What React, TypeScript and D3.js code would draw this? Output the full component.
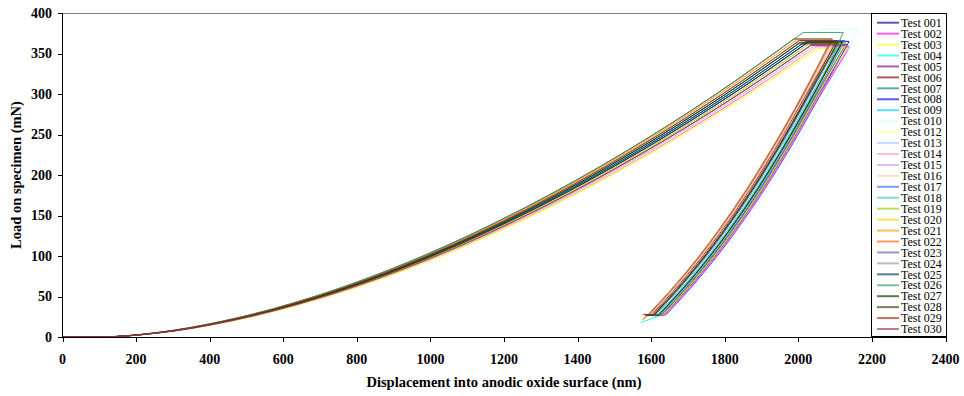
import React from "react";
import * as d3 from "d3";

const W = 964;
const H = 396;

const testNames = [
  "Test 001", "Test 002", "Test 003", "Test 004", "Test 005", "Test 006", "Test 007", "Test 008",
  "Test 009", "Test 010", "Test 012", "Test 013", "Test 014", "Test 015", "Test 016", "Test 017",
  "Test 018", "Test 019", "Test 020", "Test 021", "Test 022", "Test 023", "Test 024", "Test 025",
  "Test 026", "Test 027", "Test 028", "Test 029", "Test 030",
];

const seriesColors = [
  "#000080", "#FF00FF", "#FFFF00", "#00FFFF", "#800080", "#800000", "#008080", "#0000FF",
  "#00CCFF", "#CCFFFF", "#FFFF99", "#99CCFF", "#FF99CC", "#CC99FF", "#FFCC99", "#3366FF",
  "#33CCCC", "#99CC00", "#FFCC00", "#FF9900", "#FF6600", "#666699", "#969696", "#003366",
  "#339966", "#003300", "#333300", "#993300", "#993366",
];

// loading branch: load levels (mN) and displacement (nm) of each test at those levels
const loadingLoads = [0, 0, 5, 20, 50, 100, 160, 230, 300];
const loadingDisp = [
  [0, 100, 256, 451, 700, 1000, 1285, 1565, 1812],
  [0, 103, 262, 462, 718, 1025, 1317, 1604, 1857],
  [0, 103, 264, 465, 721, 1030, 1324, 1612, 1866],
  [0, 101, 259, 456, 707, 1010, 1298, 1581, 1830],
  [0, 102, 260, 458, 711, 1015, 1304, 1588, 1839],
  [0, 100, 255, 449, 697, 995, 1279, 1557, 1803],
  [0, 99, 253, 446, 693, 990, 1272, 1549, 1794],
  [0, 101, 257, 453, 704, 1005, 1291, 1573, 1821],
  [0, 95, 254, 450, 700, 1001, 1286, 1566, 1813],
  [0, 110, 262, 455, 701, 999, 1283, 1562, 1810],
  [0, 108, 264, 463, 717, 1024, 1316, 1602, 1854],
  [0, 101, 259, 456, 707, 1010, 1298, 1581, 1830],
  [0, 99, 253, 446, 693, 990, 1272, 1549, 1794],
  [0, 102, 261, 460, 714, 1020, 1311, 1596, 1848],
  [0, 99, 252, 444, 690, 985, 1266, 1542, 1785],
  [0, 101, 257, 453, 704, 1005, 1291, 1573, 1821],
  [0, 100, 256, 451, 700, 1000, 1285, 1565, 1812],
  [0, 102, 260, 458, 711, 1015, 1304, 1588, 1839],
  [0, 101, 259, 456, 707, 1010, 1298, 1581, 1830],
  [0, 99, 252, 444, 690, 985, 1266, 1542, 1785],
  [0, 98, 251, 442, 686, 980, 1259, 1534, 1776],
  [0, 96, 250, 441, 686, 981, 1260, 1535, 1777],
  [0, 100, 255, 449, 697, 995, 1279, 1557, 1803],
  [0, 100, 256, 451, 700, 1000, 1285, 1565, 1812],
  [0, 90, 246, 438, 684, 979, 1258, 1534, 1777],
  [0, 100, 255, 449, 697, 995, 1279, 1557, 1803],
  [0, 101, 257, 453, 704, 1005, 1291, 1573, 1821],
  [0, 99, 253, 446, 693, 990, 1272, 1549, 1794],
  [0, 102, 260, 458, 711, 1015, 1304, 1588, 1839],
];

// peak load (mN), displacement at peak and at end of hold (nm)
const peakLoad = [
  362, 358, 356, 365, 360, 362, 366, 365, 364, 380, 357, 364, 363, 359, 365, 366,
  363, 362, 364, 367, 368, 368, 364, 365, 376, 363, 364, 366, 361,
];
const peakDisp = [
  2010, 2048, 2052, 2040, 2034, 2000, 2003, 2030, 2016, 2062, 2045, 2036, 1993, 2041, 1990, 2033,
  2013, 2040, 2036, 1996, 1988, 1988, 2006, 2020, 2013, 2003, 2026, 2003, 2037,
];
const holdDisp = [
  2108, 2140, 2135, 2130, 2128, 2100, 2110, 2138, 2118, 2162, 2132, 2125, 2098, 2138, 2096, 2126,
  2115, 2130, 2122, 2094, 2090, 2092, 2110, 2120, 2122, 2106, 2120, 2104, 2134,
];

// unloading branch
const unloadingLoads = [300, 230, 160, 100, 55, 27];
const unloadingDisp = [
  [2030, 1942, 1844, 1748, 1665, 1608],
  [2062, 1974, 1876, 1780, 1697, 1640],
  [2057, 1969, 1871, 1775, 1692, 1635],
  [2052, 1964, 1866, 1770, 1687, 1630],
  [2050, 1962, 1864, 1768, 1685, 1628],
  [2022, 1934, 1836, 1740, 1657, 1600],
  [2032, 1944, 1846, 1750, 1667, 1610],
  [2060, 1972, 1874, 1778, 1695, 1638],
  [2040, 1952, 1854, 1758, 1675, 1618],
  [2078, 1985, 1885, 1790, 1705, 1652],
  [2054, 1966, 1868, 1772, 1689, 1632],
  [2047, 1959, 1861, 1765, 1682, 1625],
  [2020, 1932, 1834, 1738, 1655, 1598],
  [2060, 1972, 1874, 1778, 1695, 1638],
  [2018, 1930, 1832, 1736, 1653, 1596],
  [2048, 1960, 1862, 1766, 1683, 1626],
  [2037, 1949, 1851, 1755, 1672, 1615],
  [2052, 1964, 1866, 1770, 1687, 1630],
  [2044, 1956, 1858, 1762, 1679, 1622],
  [2016, 1928, 1830, 1734, 1651, 1594],
  [2012, 1924, 1826, 1730, 1647, 1590],
  [2014, 1926, 1828, 1732, 1649, 1592],
  [2032, 1944, 1846, 1750, 1667, 1610],
  [2042, 1954, 1856, 1760, 1677, 1620],
  [2044, 1956, 1858, 1762, 1679, 1622],
  [2028, 1940, 1842, 1746, 1663, 1606],
  [2042, 1954, 1856, 1760, 1677, 1620],
  [2026, 1938, 1840, 1744, 1661, 1604],
  [2056, 1968, 1870, 1774, 1691, 1634],
];

// final point after the low-load hold
const endDisp = [
  1585, 1610, 1605, 1572, 1600, 1580, 1588, 1608, 1590, 1620, 1602, 1596, 1580, 1606, 1578, 1598,
  1590, 1600, 1594, 1578, 1576, 1577, 1586, 1592, 1594, 1584, 1592, 1582, 1604,
];
const endLoad = [
  27, 26, 26, 18, 27, 28, 27, 27, 27, 27, 26, 27, 28, 26, 28, 27,
  27, 27, 27, 22, 21, 28, 27, 27, 27, 27, 27, 28, 27,
];

const xTickValues = [0, 200, 400, 600, 800, 1000, 1200, 1400, 1600, 1800, 2000, 2200, 2400];
const yTickValues = [0, 50, 100, 150, 200, 250, 300, 350, 400];

const SERIF = '"Liberation Serif", "Times New Roman", Times, serif';

type Pt = [number, number];

export default function App() {
  const x = d3.scaleLinear().domain([0, 2400]).range([62.5, 945.5]);
  const y = d3.scaleLinear().domain([0, 400]).range([337, 13]);

  const loadLine = d3.line<Pt>().x((d) => x(d[0])).y((d) => y(d[1])).curve(d3.curveMonotoneX);
  const unloadLine = d3.line<Pt>().x((d) => x(d[0])).y((d) => y(d[1])).curve(d3.curveMonotoneY);
  const straight = d3.line<Pt>().x((d) => x(d[0])).y((d) => y(d[1]));

  const series = testNames.map((name, i) => {
    const loading: Pt[] = loadingDisp[i].map((h, k) => [h, loadingLoads[k]] as Pt);
    loading.push([peakDisp[i], peakLoad[i]]);
    const hold: Pt[] = [
      [peakDisp[i], peakLoad[i]],
      [holdDisp[i], peakLoad[i]],
    ];
    const unloading: Pt[] = [[holdDisp[i], peakLoad[i]]];
    unloadingDisp[i].forEach((h, k) => unloading.push([h, unloadingLoads[k]]));
    const last = unloading[unloading.length - 1];
    const tail: Pt[] = [last, [endDisp[i], endLoad[i]]];
    return { name, color: seriesColors[i], loading, hold, unloading, tail };
  });

  const legendX = x(2200);
  const legendRight = 946.5;
  const legendTop = 13.5;
  const legendBottom = 336.5;

  return (
    <svg
      width={W}
      height={H}
      style={{ position: "absolute", left: 0, top: 0, background: "#fff" }}
      fontFamily={SERIF}
    >
      <rect x={0} y={0} width={W} height={H} fill="#fff" />
      {/* top border of plot area */}
      <line x1={x(0)} x2={x(2400)} y1={13.5} y2={13.5} stroke="#808080" strokeWidth={1} />

      {/* data */}
      <g fill="none" strokeWidth={1} strokeOpacity={0.9}>
        {series.map((s) => (
          <g key={s.name} stroke={s.color}>
            <path d={loadLine(s.loading) || ""} />
            <path d={straight(s.hold) || ""} />
            <path d={unloadLine(s.unloading) || ""} />
            <path d={straight(s.tail) || ""} />
          </g>
        ))}
      </g>

      {/* axes */}
      <g shapeRendering="crispEdges" stroke="#000" strokeWidth={1}>
        <line x1={62.5} x2={62.5} y1={13} y2={337.5} />
        <line x1={62} x2={946} y1={337.5} y2={337.5} />
        {yTickValues.map((v) => (
          <line key={"yt" + v} x1={58} x2={62.5} y1={Math.round(y(v)) + 0.5} y2={Math.round(y(v)) + 0.5} />
        ))}
        {xTickValues.map((v) => (
          <line key={"xt" + v} x1={Math.round(x(v)) + 0.5} x2={Math.round(x(v)) + 0.5} y1={337} y2={342} />
        ))}
      </g>
      <g fontSize={14} fontWeight="bold" fill="#000">
        {yTickValues.map((v) => (
          <text key={"yl" + v} x={52} y={y(v)} dy="0.35em" textAnchor="end">
            {v}
          </text>
        ))}
        {xTickValues.map((v) => (
          <text key={"xl" + v} x={x(v)} y={364} textAnchor="middle">
            {v}
          </text>
        ))}
      </g>
      <text x={(x(0) + x(2400)) / 2} y={387} textAnchor="middle" fontSize={14.5} fontWeight="bold">
        Displacement into anodic oxide surface (nm)
      </text>
      <text
        transform={`translate(21, ${(y(0) + y(400)) / 2}) rotate(-90)`}
        textAnchor="middle"
        fontSize={14.5}
        fontWeight="bold"
      >
        Load on specimen (mN)
      </text>

      {/* legend */}
      <rect
        x={legendX}
        y={legendTop}
        width={legendRight - legendX}
        height={legendBottom - legendTop}
        fill="#fff"
        stroke="#000"
        strokeWidth={1}
        shapeRendering="crispEdges"
      />
      {series.map((s, i) => {
        const ly = 22.7 + i * 10.94;
        return (
          <g key={"lg" + s.name}>
            <line x1={877} x2={899} y1={ly} y2={ly} stroke={s.color} strokeWidth={2} strokeOpacity={0.65} />
            <text x={901} y={ly} dy="0.35em" fontSize={12} fill="#000">
              {s.name}
            </text>
          </g>
        );
      })}
    </svg>
  );
}
